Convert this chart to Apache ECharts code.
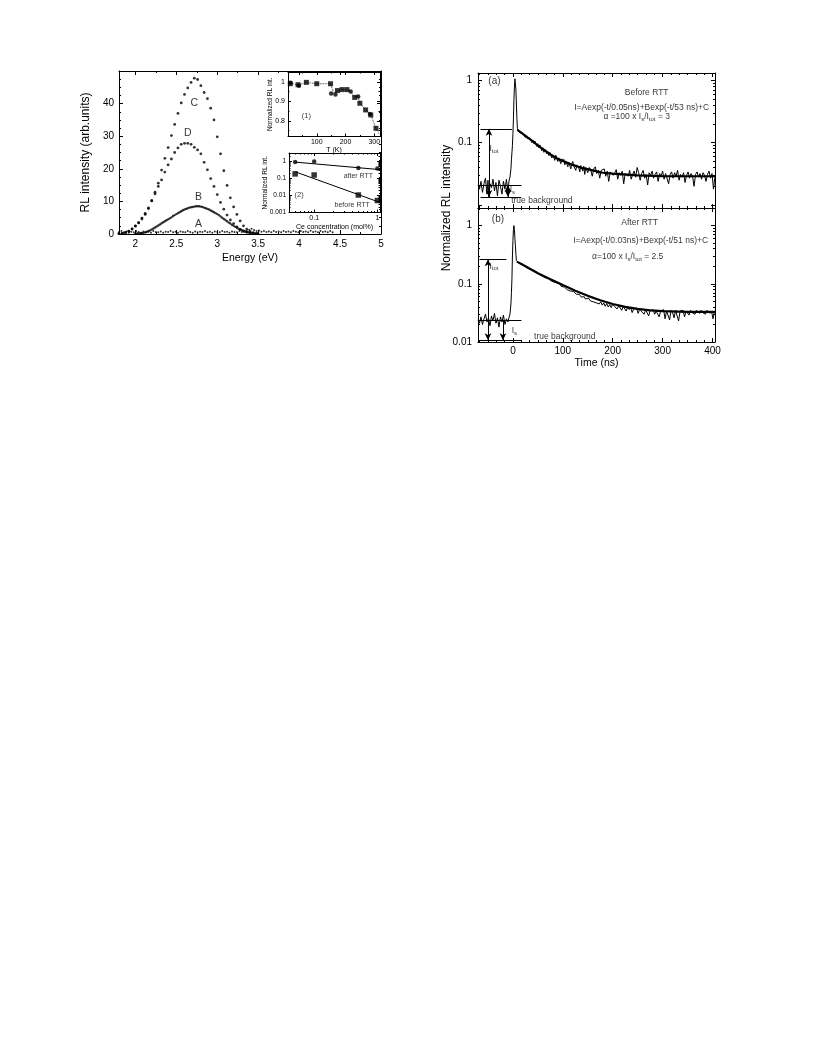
<!DOCTYPE html>
<html><head><meta charset="utf-8">
<script src="https://cdn.jsdelivr.net/npm/echarts@6/dist/echarts.min.js"></script>
<style>html,body{margin:0;padding:0;background:#fff}#c{width:816px;height:1056px}</style>
</head><body><div id="c"></div>
<script>
// ---------------- DATA ----------------
// Main panel: RL spectra (energy eV, intensity arb.units)
const curveC = [[1.80,0.1],[1.84,0.2],[1.88,0.4],[1.92,0.8],[1.96,1.5],[2.00,2.4],[2.04,3.4],[2.08,4.6],[2.12,6.0],[2.16,7.8],[2.20,10.2],[2.24,12.8],[2.28,15.6],[2.32,19.6],[2.36,23.2],[2.40,26.5],[2.44,30.2],[2.48,33.6],[2.52,37.0],[2.56,40.2],[2.60,42.8],[2.64,44.8],[2.68,46.5],[2.72,47.8],[2.76,47.4],[2.80,45.5],[2.84,43.4],[2.88,41.5],[2.92,38.6],[2.96,35.0],[3.00,29.8],[3.04,24.6],[3.08,19.4],[3.12,14.9],[3.16,11.1],[3.20,8.3],[3.24,6.0],[3.28,4.0],[3.32,2.5],[3.36,1.5],[3.40,0.8],[3.44,0.4],[3.48,0.2]];
const curveD = [[1.80,0.1],[1.84,0.2],[1.88,0.4],[1.92,0.9],[1.96,1.6],[2.00,2.5],[2.04,3.5],[2.08,4.9],[2.12,6.3],[2.16,8.0],[2.20,10.2],[2.24,12.3],[2.28,14.6],[2.32,16.6],[2.36,19.0],[2.40,21.2],[2.44,23.0],[2.48,25.0],[2.52,26.4],[2.56,27.5],[2.60,27.8],[2.64,27.8],[2.68,27.5],[2.72,26.6],[2.76,25.8],[2.80,24.6],[2.84,22.0],[2.88,19.7],[2.92,17.0],[2.96,14.6],[3.00,12.1],[3.04,9.7],[3.08,7.6],[3.12,5.8],[3.16,4.3],[3.20,3.2],[3.24,2.2],[3.28,1.4],[3.32,0.9],[3.36,0.5],[3.40,0.3]];
const curveB = [[2.00,0.1],[2.02,0.15],[2.04,0.2],[2.06,0.25],[2.08,0.3],[2.10,0.4],[2.12,0.5],[2.14,0.7],[2.16,0.9],[2.18,1.1],[2.20,1.4],[2.22,1.7],[2.24,2.0],[2.26,2.3],[2.28,2.6],[2.30,2.9],[2.32,3.3],[2.34,3.6],[2.36,3.9],[2.38,4.2],[2.40,4.5],[2.42,4.8],[2.44,5.1],[2.46,5.5],[2.48,5.8],[2.50,6.1],[2.52,6.4],[2.54,6.7],[2.56,7.0],[2.58,7.3],[2.60,7.5],[2.62,7.7],[2.64,7.9],[2.66,8.1],[2.68,8.2],[2.70,8.3],[2.72,8.4],[2.74,8.5],[2.76,8.5],[2.78,8.5],[2.80,8.4],[2.82,8.3],[2.84,8.1],[2.86,7.9],[2.88,7.7],[2.90,7.5],[2.92,7.2],[2.94,7.0],[2.96,6.7],[2.98,6.4],[3.00,6.1],[3.02,5.8],[3.04,5.4],[3.06,5.0],[3.08,4.6],[3.10,4.3],[3.12,3.9],[3.14,3.5],[3.16,3.2],[3.18,2.8],[3.20,2.5],[3.22,2.2],[3.24,1.9],[3.26,1.6],[3.28,1.4],[3.30,1.2],[3.32,1.0],[3.34,0.8],[3.36,0.6],[3.38,0.5],[3.40,0.4],[3.42,0.3],[3.44,0.3],[3.46,0.2],[3.48,0.2],[3.50,0.15]];
const curveA = [[1.80,0.6],[1.83,0.9],[1.86,0.5],[1.89,0.8],[1.92,0.4],[1.95,0.7],[1.98,0.5],[2.01,0.9],[2.04,0.6],[2.07,0.4],[2.10,0.8],[2.13,0.5],[2.16,0.7],[2.19,0.4],[2.22,0.9],[2.25,0.6],[2.28,0.5],[2.31,0.8],[2.34,0.4],[2.37,0.7],[2.40,0.6],[2.43,0.9],[2.46,0.5],[2.49,0.7],[2.52,0.4],[2.55,0.8],[2.58,0.6],[2.61,0.5],[2.64,0.9],[2.67,0.6],[2.70,0.4],[2.73,0.8],[2.76,0.5],[2.79,0.7],[2.82,0.6],[2.85,0.9],[2.88,0.5],[2.91,0.7],[2.94,0.4],[2.97,0.8],[3.00,0.6],[3.03,0.5],[3.06,0.9],[3.09,0.6],[3.12,0.7],[3.15,0.4],[3.18,0.8],[3.21,0.6],[3.24,0.5],[3.27,0.9],[3.30,0.6],[3.33,0.7],[3.36,1.0],[3.39,1.3],[3.42,1.6],[3.45,1.2],[3.48,0.9],[3.51,1.1],[3.54,0.7],[3.57,0.9],[3.60,0.6],[3.63,0.8],[3.66,0.5],[3.69,0.9],[3.72,0.6],[3.75,0.8],[3.78,0.5],[3.81,0.9],[3.84,0.6],[3.87,0.8],[3.90,0.5],[3.93,0.9],[3.96,0.7],[3.99,0.5],[4.02,0.9],[4.05,0.6],[4.08,0.8],[4.11,0.5],[4.14,1.0],[4.17,0.6],[4.20,0.8],[4.23,0.5],[4.26,0.9],[4.29,0.6],[4.32,0.8],[4.35,0.5],[4.38,0.9],[4.41,0.5]];
const curveLabels = [['C',2.72,40],['D',2.64,30.8],['B',2.77,11.3],['A',2.77,2.9]];

// Inset (1): normalized RL intensity vs temperature
const inset1Squares = [[8,0.99],[35,0.985],[64,0.997],[100,0.99],[148,0.99],[172,0.955],[188,0.96],[205,0.96],[232,0.92],[250,0.89],[270,0.856],[288,0.83],[306,0.762]];
const inset1Circles = [[8,0.995],[38,0.98],[150,0.94],[165,0.935],[218,0.95],[244,0.925],[285,0.835]];
const inset1Trend = [[8,0.993],[36,0.983],[64,0.997],[100,0.99],[148,0.99],[160,0.94],[172,0.955],[188,0.96],[205,0.96],[218,0.95],[232,0.92],[244,0.925],[250,0.89],[270,0.856],[288,0.83],[306,0.762],[318,0.73]];

// Inset (2): normalized RL vs Ce concentration
const afterRTT = [[0.05,0.9],[0.1,0.95],[0.5,0.4],[1,0.37]];
const beforeRTT = [[0.05,0.18],[0.1,0.155],[0.5,0.0105],[1,0.005]];
const afterFit = [[0.05,0.88],[1,0.33]];
const beforeFit = [[0.05,0.24],[1,0.0044]];

// Right panel (a): decay before RTT (time ns, normalized intensity)
const decayA = [[-70,0.021],[-67,0.018],[-64,0.024],[-61,0.016],[-58,0.022],[-55,0.027],[-52,0.015],[-50,0.025],[-48,0.013],[-46,0.022],[-43,0.019],[-40,0.026],[-37,0.017],[-34,0.023],[-31,0.014],[-28,0.025],[-25,0.02],[-22,0.015],[-19,0.024],[-16,0.018],[-13,0.026],[-10,0.016],[-8,0.024],[-6,0.028],[-4,0.038],[-3,0.053],[-1,0.09],[0,0.14],[1,0.24],[2,0.49],[3,0.78],[4,1.05],[5,1.1],[6,0.7],[7,0.4],[8,0.24],[9,0.17],
[10,0.155],[12,0.15],[14,0.143],[16,0.152],[18,0.135],[20,0.14],[22,0.128],[24,0.136],[26,0.122],[28,0.118],[30,0.127],[32,0.112],[34,0.118],[36,0.115],[38,0.1],[40,0.11],[42,0.097],[44,0.106],[46,0.095],[48,0.087],[50,0.096],[52,0.083],[54,0.092],[56,0.088],[58,0.074],[60,0.083],[62,0.07],[64,0.079],[66,0.076],[68,0.066],[70,0.072],[72,0.062],[74,0.07],[76,0.068],[78,0.057],[80,0.064],[82,0.058],[84,0.052],[86,0.063],[88,0.059],[90,0.05],[92,0.057],[94,0.055],[96,0.046],[98,0.055],[100,0.049],[102,0.054],[104,0.044],[106,0.051],[108,0.05],[110,0.041],[112,0.049],[114,0.047],[116,0.038],[118,0.046],[120,0.05],[122,0.042],[124,0.045],[126,0.036],[128,0.044],[130,0.047],[132,0.039],[134,0.034],[136,0.043],[138,0.041],[140,0.035],[142,0.042],[144,0.031],[146,0.04],[148,0.039],[150,0.033],[153,0.04],[156,0.037],[159,0.029],[162,0.038],[165,0.041],[168,0.032],[171,0.036],[174,0.027],[177,0.036],[180,0.034],[183,0.038],[186,0.029],[189,0.035],[192,0.024],[195,0.034],[198,0.036],[201,0.03],[204,0.033],[207,0.037],[210,0.026],[213,0.033],[216,0.03],[219,0.035],[222,0.022],[225,0.032],[228,0.034],[231,0.029],[234,0.036],[237,0.026],[240,0.031],[243,0.035],[246,0.028],[249,0.04],[252,0.033],[255,0.025],[258,0.032],[261,0.036],[264,0.027],[267,0.031],[270,0.021],[273,0.033],[276,0.03],[279,0.035],[282,0.027],[285,0.031],[288,0.034],[291,0.024],[294,0.032],[297,0.029],[300,0.035],[303,0.026],[306,0.032],[309,0.03],[312,0.022],[315,0.031],[318,0.034],[321,0.027],[324,0.033],[327,0.029],[330,0.036],[333,0.025],[336,0.031],[339,0.028],[342,0.033],[345,0.023],[348,0.03],[351,0.034],[354,0.027],[357,0.032],[360,0.029],[363,0.02],[366,0.031],[369,0.034],[372,0.028],[375,0.032],[378,0.026],[381,0.033],[384,0.03],[387,0.024],[390,0.031],[393,0.035],[396,0.027],[399,0.032],[402,0.018],[405,0.029]];
const fitA = [[9,0.16],[10,0.158],[20,0.138],[30,0.12],[40,0.105],[50,0.09],[60,0.079],[70,0.069],[80,0.061],[90,0.055],[100,0.051],[120,0.044],[140,0.039],[160,0.036],[180,0.033],[200,0.032],[250,0.03],[300,0.029],[350,0.029],[405,0.029]];
// Right panel (b): decay after RTT
const decayB = [[-70,0.024],[-67,0.021],[-64,0.027],[-61,0.02],[-58,0.025],[-55,0.03],[-52,0.022],[-49,0.026],[-46,0.019],[-43,0.028],[-40,0.023],[-37,0.031],[-34,0.021],[-31,0.026],[-28,0.018],[-25,0.027],[-22,0.022],[-19,0.029],[-16,0.02],[-13,0.025],[-10,0.022],[-8,0.026],[-6,0.03],[-4,0.045],[-3,0.07],[-2,0.12],[-1,0.3],[0,0.55],[1,0.85],[2,1.0],[3,0.85],[4,0.6],[5,0.45],[6,0.32],[7,0.25],[9,0.235],
[11,0.232],[13,0.225],[15,0.228],[17,0.214],[19,0.22],[21,0.205],[23,0.203],[25,0.198],[27,0.2],[29,0.186],[31,0.19],[33,0.181],[35,0.176],[37,0.178],[39,0.168],[41,0.171],[43,0.163],[45,0.158],[47,0.16],[49,0.15],[51,0.154],[53,0.145],[55,0.143],[57,0.14],[59,0.135],[61,0.137],[63,0.13],[65,0.127],[67,0.128],[69,0.12],[71,0.124],[73,0.117],[75,0.114],[77,0.118],[79,0.11],[81,0.108],[83,0.111],[85,0.103],[87,0.104],[89,0.099],[91,0.097],[93,0.1],[95,0.093],[97,0.09],[99,0.094],[101,0.087],[103,0.088],[105,0.083],[107,0.085],[109,0.079],[111,0.081],[113,0.078],[115,0.075],[117,0.078],[119,0.071],[121,0.074],[123,0.07],[125,0.071],[127,0.066],[129,0.069],[131,0.064],[133,0.066],[135,0.062],[137,0.059],[139,0.063],[141,0.058],[143,0.06],[145,0.055],[147,0.058],[149,0.054],[152,0.056],[155,0.051],[158,0.054],[161,0.049],[164,0.052],[167,0.047],[170,0.05],[173,0.045],[176,0.049],[179,0.043],[182,0.047],[185,0.041],[188,0.046],[191,0.04],[194,0.044],[197,0.039],[200,0.045],[203,0.041],[206,0.043],[209,0.037],[212,0.042],[215,0.039],[218,0.035],[221,0.041],[224,0.038],[227,0.034],[230,0.04],[233,0.036],[236,0.039],[239,0.032],[242,0.037],[245,0.035],[248,0.038],[251,0.031],[254,0.037],[257,0.034],[260,0.036],[263,0.03],[266,0.036],[269,0.034],[272,0.028],[275,0.035],[278,0.033],[281,0.036],[284,0.03],[287,0.034],[290,0.035],[293,0.027],[296,0.034],[299,0.032],[302,0.036],[305,0.025],[308,0.034],[311,0.033],[314,0.024],[317,0.035],[320,0.032],[323,0.026],[326,0.035],[329,0.033],[332,0.023],[335,0.034],[338,0.032],[341,0.035],[344,0.027],[347,0.034],[350,0.033],[353,0.029],[356,0.035],[359,0.032],[362,0.034],[365,0.03],[368,0.035],[371,0.033],[374,0.031],[377,0.035],[380,0.032],[383,0.034],[386,0.03],[389,0.035],[392,0.033],[395,0.031],[398,0.034],[401,0.025],[404,0.034]];
const fitB = [[8,0.24],[10,0.238],[25,0.2],[50,0.152],[75,0.12],[100,0.095],[125,0.076],[150,0.062],[175,0.052],[200,0.045],[225,0.04],[250,0.037],[275,0.035],[300,0.034],[350,0.033],[405,0.033]];
// annotation levels (I_tot, I_s, true background) and arrow times
const levelsA = {tot:0.166, s:0.021, bg:0.0135, tArrowTot:-48, tArrowS:-10};
const levelsB = {tot:0.264, s:0.024, bg:0.0107, tArrowTot:-50, tArrowS:-20};

// Tick values / labels
const energyTicks = [2,2.5,3,3.5,4,4.5,5];
const energyMinor = [2.25,2.75,3.25,3.75,4.25,4.75];
const intensityTicks = [0,10,20,30,40,50];
const intensityLabels = [0,10,20,30,40];
const intensityMinor = [2.5,5,7.5,12.5,15,17.5,22.5,25,27.5,32.5,35,37.5,42.5,45,47.5];
const tempTicks = [100,200,300];
const tempMinor = [50,150,250];
const normTicks = [0.8,0.9,1];
const normMinor = [0.75,0.85,0.95];
const ceTicks = [0.1,1];
const ceMinor = [0.05,0.06,0.07,0.08,0.09,0.2,0.3,0.4,0.5,0.6,0.7,0.8,0.9];
const ceYTicks = [0.001,0.01,0.1,1];
const ceYMinor = [0.002,0.003,0.004,0.005,0.006,0.007,0.008,0.009,0.02,0.03,0.04,0.05,0.06,0.07,0.08,0.09,0.2,0.3,0.4,0.5,0.6,0.7,0.8,0.9,2];
const timeTicks = [0,100,200,300,400];
const timeMinor = [-66.67,-50,-33.33,-16.67,16.67,33.33,50,66.67,83.33,116.67,133.33,150,166.67,183.33,216.67,233.33,250,266.67,283.33,316.67,333.33,350,366.67,383.33];
const decayTicks = [0.01,0.1,1];
const decayLabelsA = [0.1,1];
const decayLabelsB = [0.01,0.1,1];
const decayMinor = [0.02,0.03,0.04,0.05,0.06,0.07,0.08,0.09,0.2,0.3,0.4,0.5,0.6,0.7,0.8,0.9];

// ---------------- CHART ----------------
const FONT = '"Liberation Sans", Arial, Helvetica, sans-serif';
const BLK = '#000';
const xAxes = [], yAxes = [];
const fmt = v => String(parseFloat((+v).toPrecision(4)));

function side(list, grid, type, min, max, pos, majors, minors, labels, lab, extra, tl) {
  const base = {gridIndex: grid, type: type, min: min, max: max, position: pos, splitLine: {show: false}, silent: true};
  if (type === 'log') base.logBase = 10;
  const idx = list.length;
  const major = Object.assign({}, base, {
    axisLine: {show: true, onZero: false, lineStyle: {color: BLK, width: 1}},
    axisTick: {show: true, inside: true, length: tl[0], customValues: majors, lineStyle: {color: BLK, width: 1}},
    axisLabel: labels ? Object.assign({show: true, customValues: labels, color: BLK, fontFamily: FONT, formatter: fmt}, lab) : {show: false}
  }, extra || {});
  list.push(major);
  list.push(Object.assign({}, base, {
    axisLine: {show: false, onZero: false},
    axisTick: {show: true, inside: true, length: tl[1], customValues: minors, lineStyle: {color: BLK, width: 1}},
    axisLabel: {show: false}
  }));
  return idx;
}
const nameStyle = (fs) => ({color: BLK, fontFamily: FONT, fontSize: fs});

// grid 0: main
const g0x = side(xAxes, 0, 'value', 1.8, 5, 'bottom', energyTicks, energyMinor, energyTicks, {fontSize: 10, margin: 5},
  {name: 'Energy (eV)', nameLocation: 'middle', nameGap: 19, nameTextStyle: nameStyle(10.5)}, [4, 2]);
side(xAxes, 0, 'value', 1.8, 5, 'top', energyTicks, energyMinor, null, null, null, [4, 2]);
const g0y = side(yAxes, 0, 'value', 0, 50, 'left', intensityTicks, intensityMinor, intensityLabels, {fontSize: 10, margin: 5},
  {name: 'RL intensity (arb.units)', nameLocation: 'middle', nameGap: 27, nameTextStyle: nameStyle(12)}, [4, 2]);
side(yAxes, 0, 'value', 0, 50, 'right', intensityTicks, intensityMinor, null, null, null, [4, 2]);
// grid 1: inset (1)
const g1x = side(xAxes, 1, 'value', 0, 320, 'bottom', tempTicks, tempMinor, tempTicks, {fontSize: 7, margin: 2},
  {name: 'T (K)', nameLocation: 'middle', nameGap: 9, nameTextStyle: nameStyle(7)}, [3, 1.5]);
side(xAxes, 1, 'value', 0, 320, 'top', tempTicks, tempMinor, null, null, null, [3, 1.5]);
const g1y = side(yAxes, 1, 'value', 0.72, 1.05, 'left', normTicks, normMinor, normTicks, {fontSize: 7, margin: 3},
  {name: 'Normalized RL int.', nameLocation: 'middle', nameGap: 14, nameMoveOverlap: false, nameTextStyle: nameStyle(6.5)}, [3, 1.5]);
side(yAxes, 1, 'value', 0.72, 1.05, 'right', normTicks, normMinor, null, null, null, [3, 1.5]);
// grid 2: inset (2)
const g2x = side(xAxes, 2, 'log', 0.04, 1.1, 'bottom', ceTicks, ceMinor, ceTicks, {fontSize: 7, margin: 2},
  {name: 'Ce concentration (mol%)', nameLocation: 'middle', nameGap: 11, nameTextStyle: nameStyle(7)}, [3, 1.5]);
side(xAxes, 2, 'log', 0.04, 1.1, 'top', ceTicks, ceMinor, null, null, null, [3, 1.5]);
const g2y = side(yAxes, 2, 'log', 0.001, 3, 'left', ceYTicks, ceYMinor, ceYTicks, {fontSize: 6.5, margin: 3},
  {name: 'Normalized RL int.', nameLocation: 'middle', nameGap: 20, nameMoveOverlap: false, nameTextStyle: nameStyle(6.5)}, [3, 1.5]);
side(yAxes, 2, 'log', 0.001, 3, 'right', ceYTicks, ceYMinor, null, null, null, [3, 1.5]);
// grid 3: right (a)
const g3x = side(xAxes, 3, 'value', -70, 405, 'bottom', timeTicks, timeMinor, null, null, null, [4, 2]);
side(xAxes, 3, 'value', -70, 405, 'top', timeTicks, timeMinor, null, null, null, [4, 2]);
const g3y = side(yAxes, 3, 'log', 0.009, 1.3, 'left', decayTicks, decayMinor, decayLabelsA, {fontSize: 10, margin: 6}, null, [4, 2]);
side(yAxes, 3, 'log', 0.009, 1.3, 'right', decayTicks, decayMinor, null, null, null, [4, 2]);
// grid 4: right (b)
const g4x = side(xAxes, 4, 'value', -70, 405, 'bottom', timeTicks, timeMinor, timeTicks, {fontSize: 10, margin: 4},
  {name: 'Time (ns)', nameLocation: 'middle', nameGap: 16, nameTextStyle: nameStyle(10.5)}, [4, 2]);
side(xAxes, 4, 'value', -70, 405, 'top', timeTicks, timeMinor, null, null, null, [4, 2]);
const g4y = side(yAxes, 4, 'log', 0.01, 2, 'left', decayTicks, decayMinor, decayLabelsB, {fontSize: 10, margin: 6}, null, [4, 2]);
side(yAxes, 4, 'log', 0.01, 2, 'right', decayTicks, decayMinor, null, null, null, [4, 2]);

const RICH = {
  sub: {fontSize: 6, fontFamily: FONT, color: BLK, verticalAlign: 'bottom', lineHeight: 11}
};
function dots(data, xi, yi, size, symbol) {
  return {type: 'scatter', data: data, xAxisIndex: xi, yAxisIndex: yi, symbol: symbol || 'circle', symbolSize: size,
    itemStyle: {color: BLK}, silent: true, animation: false};
}
function line(data, xi, yi, width, type) {
  return {type: 'line', data: data, xAxisIndex: xi, yAxisIndex: yi, symbol: 'none', smooth: false,
    lineStyle: {color: BLK, width: width, type: type || 'solid'}, silent: true, animation: false};
}
function texts(items, xi, yi) {
  return {type: 'scatter', xAxisIndex: xi, yAxisIndex: yi, symbolSize: 0.1, silent: true, animation: false, z: 10,
    itemStyle: {color: 'rgba(0,0,0,0)'},
    data: items.map(it => ({value: [it[1], it[2]], label: {show: true, position: 'inside', formatter: it[0],
      fontSize: it[3], fontFamily: FONT, color: BLK, lineHeight: 11, fontWeight: it[4] || 'normal', rich: RICH}}))};
}
function annot(L, xi, yi, bgStart, totEnd, bgEnd, totStart, sArrowBoth) {
  const p = (x, y, s) => ({coord: [x, y], symbol: s || 'none', symbolSize: [5, 7]});
  return {type: 'line', data: [], xAxisIndex: xi, yAxisIndex: yi, silent: true, animation: false,
    markLine: {silent: true, animation: false, label: {show: false}, lineStyle: {color: BLK, width: 1, type: 'solid'},
      emphasis: {disabled: true},
      data: [
        [p(totStart, L.tot), p(totEnd, L.tot)],
        [p(-70, L.s), p(bgEnd, L.s)],
        [p(bgStart, L.bg), p(bgEnd, L.bg)],
        [p(L.tArrowTot, L.bg, 'arrow'), p(L.tArrowTot, L.tot, 'arrow')],
        [p(L.tArrowS, L.s, sArrowBoth ? 'arrow' : 'none'), p(L.tArrowS, L.bg, 'arrow')]
      ]}};
}

const series = [
  dots(curveA, g0x, g0y, 2),
  dots(curveB, g0x, g0y, 2.4),
  dots(curveD, g0x, g0y, 2.8),
  dots(curveC, g0x, g0y, 2.8),
  texts(curveLabels.map(c => [c[0], c[1], c[2], 10.5]), g0x, g0y),
  line(inset1Trend, g1x, g1y, 0.8, 'dotted'),
  dots(inset1Squares, g1x, g1y, 5, 'rect'),
  dots(inset1Circles, g1x, g1y, 4.5, 'circle'),
  texts([['(1)', 64, 0.825, 7.5]], g1x, g1y),
  line(afterFit, g2x, g2y, 1),
  line(beforeFit, g2x, g2y, 1),
  dots(afterRTT, g2x, g2y, 4.5, 'circle'),
  dots(beforeRTT, g2x, g2y, 5.5, 'rect'),
  texts([['(2)', 0.058, 0.01, 7.5], ['after RTT', 0.5, 0.13, 7], ['before RTT', 0.4, 0.0026, 7]], g2x, g2y),
  line(decayA, g3x, g3y, 1),
  line(fitA, g3x, g3y, 2.2),
  annot(levelsA, g3x, g3y, -65, -2, 17, -65, true),
  texts([
    ['(a)', -37, 0.95, 10],
    ['Before RTT', 268, 0.64, 8.5],
    ['I=Aexp(-t/0.05ns)+Bexp(-t/53 ns)+C', 258, 0.36, 8.5],
    ['α =100 x I{sub|s}/I{sub|tot} = 3', 248, 0.26, 8.5],
    ['true background', 58, 0.0118, 8.5],
    ['I{sub|tot}', -38, 0.08, 8.5],
    ['I{sub|s}', -1, 0.0175, 8.5]
  ], g3x, g3y),
  line(decayB, g4x, g4y, 1),
  line(fitB, g4x, g4y, 2.2),
  annot(levelsB, g4x, g4y, -67, -13, 17, -67, false),
  texts([
    ['(b)', -30, 1.3, 10],
    ['After RTT', 254, 1.12, 8.5],
    ['I=Aexp(-t/0.03ns)+Bexp(-t/51 ns)+C', 256, 0.56, 8.5],
    ['α=100 x I{sub|s}/I{sub|tot} = 2.5', 230, 0.29, 8.5],
    ['true background', 104, 0.0123, 8.5],
    ['I{sub|tot}', -38, 0.2, 8.5],
    ['I{sub|s}', 3, 0.0155, 8.5]
  ], g4x, g4y)
];

const chart = echarts.init(document.getElementById('c'), null, {renderer: 'canvas'});
chart.setOption({
  animation: false,
  backgroundColor: '#fff',
  textStyle: {fontFamily: FONT},
  grid: [
    {left: 119, top: 71, width: 262, height: 163, containLabel: false},
    {left: 288, top: 72, width: 92, height: 64.5, containLabel: false},
    {left: 289, top: 153, width: 91, height: 59.5, containLabel: false},
    {left: 478, top: 73, width: 237, height: 135, containLabel: false},
    {left: 478, top: 208, width: 237, height: 134, containLabel: false}
  ],
  xAxis: xAxes,
  yAxis: yAxes,
  graphic: [
    {type: 'text', x: 447, y: 208, rotation: Math.PI / 2, silent: true,
      style: {text: 'Normalized RL intensity', fontSize: 12, fontFamily: FONT, fill: BLK, align: 'center', verticalAlign: 'middle'}}
  ],
  series: series
});
</script></body></html>
